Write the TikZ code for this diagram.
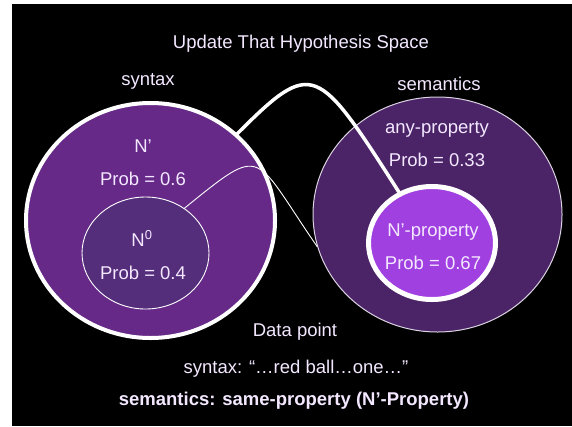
\documentclass[tikz,border=0pt]{standalone}
\usepackage{fontspec}
\setmainfont{Liberation Sans}
\usetikzlibrary{shapes.geometric,positioning}

\definecolor{synfill}{RGB}{102,41,136}
\definecolor{nzfill}{RGB}{84,45,123}
\definecolor{semfill}{RGB}{75,36,103}
\definecolor{npfill}{RGB}{161,64,224}
\definecolor{lav}{RGB}{243,232,255}

\begin{document}
\begin{tikzpicture}[
  x=1pt, y=-1pt,
  set/.style={
    ellipse, draw=white, inner sep=0pt,
    minimum width=249pt, minimum height=235pt},
  sub/.style={
    ellipse, draw=white, inner sep=0pt,
    minimum width=127pt, minimum height=112pt},
  lbl/.style={
    text=lav, inner sep=0pt, anchor=base,
    font=\fontsize{18.5}{22}\selectfont},
  link/.style={draw=white, line cap=round},
]

  % ── Page and slide background ───────────────────────────────────────────
  \useasboundingbox (0,0) rectangle (572,426);
  \fill[black] (12,4) rectangle (572,426);

  % ── Hypothesis spaces ───────────────────────────────────────────────────
  \node[set, fill=synfill, line width=4pt]                (syn)   at (150.5,220.5) {};
  \node[sub, fill=nzfill, line width=0.9pt]               (nzero) at (145.5,253)   {};
  \node[set, fill=semfill, draw=white!80!semfill,
        line width=1pt]                                   (sem)   at (437.5,214.5) {};
  \node[sub, fill=npfill, line width=5pt,
        minimum height=113pt]                             (nprop) at (432,243)     {};

  % ── Links between the two spaces ────────────────────────────────────────
  \draw[link, line width=3.5pt] (syn.45)
      .. controls (313,58) and (317,64) .. (nprop.123);
  \draw[link, line width=0.9pt] (nzero.49)
      .. controls (265,143) and (252,152) .. (sem.195);

  % ── Labels ──────────────────────────────────────────────────────────────
  \node[lbl] (title)   at (301,48)  {Update That Hypothesis Space};
  \node[lbl] (syntxt)  at (148,85)  {syntax};
  \node[lbl] (semtxt)  at (439,90)  {semantics};

  \node[lbl] (nptxt)   at (143,152) {N’};
  \node[lbl] (npprob)  at (143,185) {Prob = 0.6};
  \node[lbl] (nztxt)   at (142,246) {N\textsuperscript{0}};
  \node[lbl] (nzprob)  at (143,279) {Prob = 0.4};

  \node[lbl] (anytxt)  at (437,133) {any-property};
  \node[lbl] (anyprob) at (437,166) {Prob = 0.33};
  \node[lbl] (nprtxt)  at (433,236) {N’-property};
  \node[lbl] (nprprob) at (433,269) {Prob = 0.67};

  % ── Data point ──────────────────────────────────────────────────────────
  \node[lbl] (data)    at (295,336) {Data point};
  \node[lbl] (datasyn) at (296,373) {syntax: “…red ball…one…”};
  \node[lbl, font=\fontsize{18.5}{22}\selectfont\bfseries]
             (datasem) at (294,405) {semantics: same-property (N’-Property)};

\end{tikzpicture}
\end{document}
